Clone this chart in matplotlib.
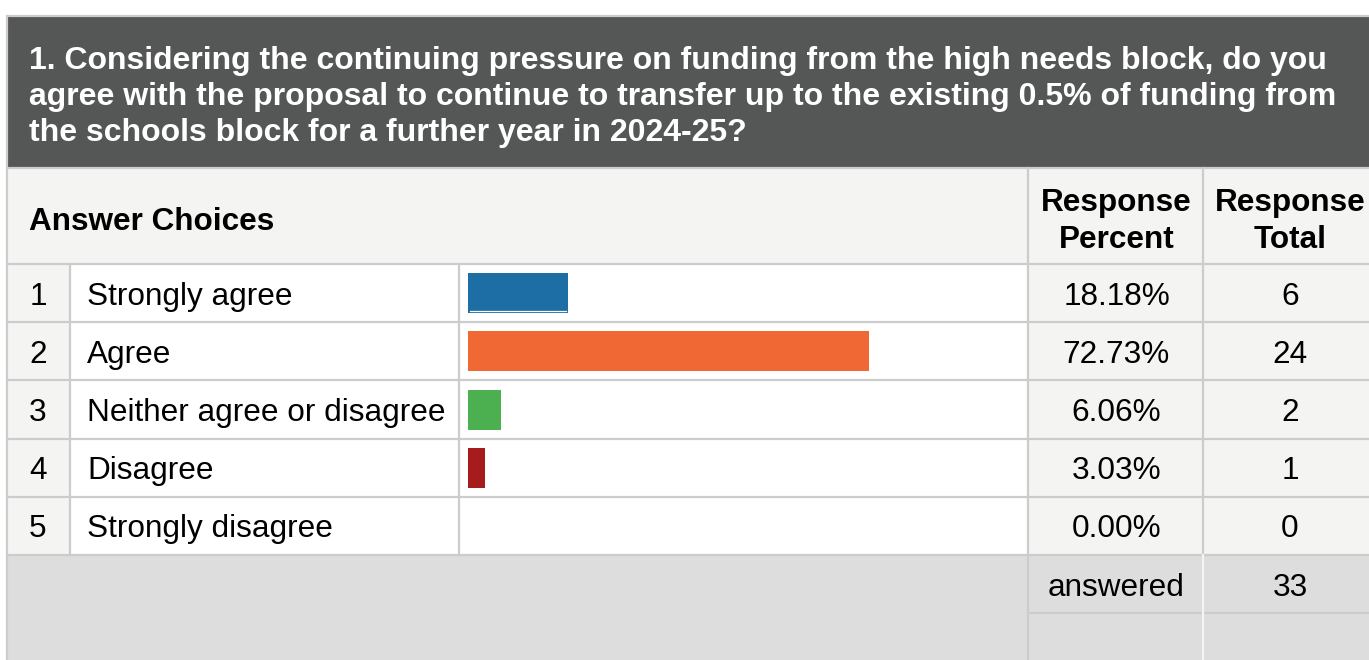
import matplotlib
matplotlib.use("Agg")
import matplotlib.pyplot as plt
from matplotlib.patches import Rectangle

plt.rcParams['font.family'] = ['Liberation Sans', 'DejaVu Sans']

question = [
    "1. Considering the continuing pressure on funding from the high needs block, do you",
    "agree with the proposal to continue to transfer up to the existing 0.5% of funding from",
    "the schools block for a further year in 2024-25?",
]
choices = ["Strongly agree", "Agree", "Neither agree or disagree", "Disagree", "Strongly disagree"]
percents = [18.18, 72.73, 6.06, 3.03, 0.00]
totals = [6, 24, 2, 1, 0]
answered = 33
bar_colors = ["#1c6ea4", "#f06833", "#4caf50", "#a61c1c", "#888888"]

W, H = 1369, 660
HEAD_BG = "#555756"
LIGHT = "#f4f4f2"
FOOT = "#dddddd"
LINE = "#cccccc"
FS = 22.7
DY = 3.5  # nudge text down so it sits like the reference

fig = plt.figure(figsize=(W / 100, H / 100), dpi=100)
ax = fig.add_axes([0, 0, 1, 1])
ax.set_xlim(0, W)
ax.set_ylim(H, 0)
ax.axis("off")

def box(x0, y0, x1, y1, color):
    ax.add_patch(Rectangle((x0, y0), x1 - x0, y1 - y0, facecolor=color, edgecolor="none", zorder=1))

# column edges
c_num, c_lab, c_bar, c_pct, c_tot = 8, 70, 459, 1028, 1203
row_top = 264
row_h = 58.2
n = len(choices)
rows_end = row_top + n * row_h
pct_x = (c_pct + c_tot) / 2 + 1
tot_x = 1290

# question header
box(c_num, 16, W, 168, HEAD_BG)
for i, line in enumerate(question):
    ax.text(29, 57 + DY + i * 36.5, line, color="white", fontsize=23.0, fontweight="bold",
            va="center", ha="left", zorder=3)

# column header row
box(c_num, 168, W, row_top, LIGHT)
ax.text(29, 218 + DY, "Answer Choices", fontsize=FS, fontweight="bold", va="center", zorder=3)
for x, word in ((pct_x, "Percent"), (tot_x, "Total")):
    ax.text(x, 199 + DY, "Response", fontsize=FS, fontweight="bold", ha="center", va="center", zorder=3)
    ax.text(x, 236 + DY, word, fontsize=FS, fontweight="bold", ha="center", va="center", zorder=3)

# body rows
box(c_num, row_top, c_lab, rows_end, LIGHT)
box(c_lab, row_top, c_pct, rows_end, "white")
box(c_pct, row_top, W, rows_end, LIGHT)

px_per_pct = 5.51
bar_left = 468
centers = [row_top + (i + 0.5) * row_h for i in range(n)]
for i, (lab, p, t) in enumerate(zip(choices, percents, totals)):
    y = centers[i] + DY
    ax.text((c_num + c_lab) / 2 - 1, y, str(i + 1), fontsize=FS, ha="center", va="center", zorder=3)
    ax.text(87, y, lab, fontsize=FS, ha="left", va="center", zorder=3)
    ax.text(pct_x, y, f"{p:.2f}%", fontsize=FS, ha="center", va="center", zorder=3)
    ax.text(tot_x, y, str(t), fontsize=FS, ha="center", va="center", zorder=3)

ax.barh(centers, [p * px_per_pct for p in percents], left=bar_left, height=40,
        color=bar_colors, zorder=2)
# thin white underline inside the first bar
ax.plot([bar_left + 2, bar_left + percents[0] * px_per_pct - 2], [centers[0] + 18, centers[0] + 18],
        color="white", lw=0.9, zorder=3)

# footer
box(c_num, rows_end, W, H, FOOT)
ax.text(pct_x, 584 + DY, "answered", fontsize=FS, ha="center", va="center", zorder=3)
ax.text(tot_x, 584 + DY, str(answered), fontsize=FS, ha="center", va="center", zorder=3)

# grid lines
lw = 1.6
ax.plot([7, 7], [16, H], color=LINE, lw=lw, zorder=4)
ax.plot([7, W], [16, 16], color=LINE, lw=lw, zorder=4)
ax.plot([7, W], [168, 168], color=LINE, lw=lw, zorder=4)
for k in range(n + 1):
    yy = row_top + k * row_h
    ax.plot([7, W], [yy, yy], color=LINE, lw=lw, zorder=4)
ax.plot([c_pct, W], [613, 613], color=LINE, lw=lw, zorder=4)
for xx in (c_lab, c_bar):
    ax.plot([xx, xx], [row_top, rows_end], color=LINE, lw=lw, zorder=4)
ax.plot([c_pct, c_pct], [168, H], color=LINE, lw=lw, zorder=4)
ax.plot([c_tot, c_tot], [168, rows_end], color=LINE, lw=lw, zorder=4)
ax.plot([c_tot, c_tot], [rows_end, H], color="#f4f4f4", lw=lw, zorder=4)

fig.savefig("out.png", dpi=100, facecolor="white")
